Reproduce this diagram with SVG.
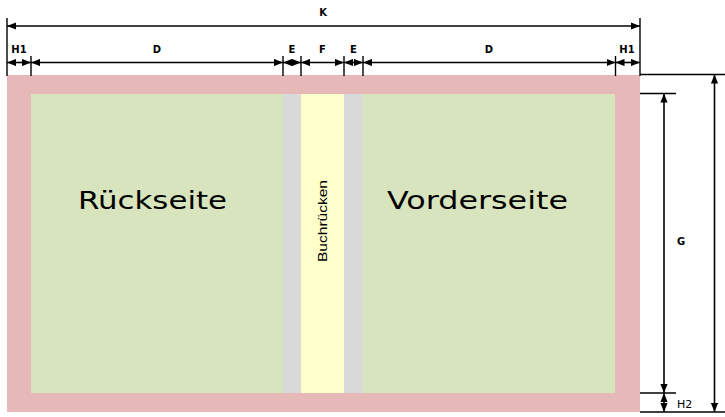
<svg xmlns="http://www.w3.org/2000/svg" width="725" height="417" viewBox="0 0 725 417">
<style>
.dim{stroke:#000;stroke-width:1.6;fill:none}
.ext{stroke:#000;stroke-width:1.4;fill:none}
.lbl{font-family:"DejaVu Sans",Verdana,sans-serif;font-size:10px;font-weight:bold;fill:#000;text-anchor:middle}
.big{font-family:"DejaVu Sans",Verdana,sans-serif;font-size:24px;fill:#000}
</style>
<defs>
<marker id="ae" viewBox="0 0 10 8" refX="10" refY="4" markerWidth="9" markerHeight="7.5" markerUnits="userSpaceOnUse" orient="auto"><path d="M0,0L10,4L0,8Z" fill="#000"/></marker>
<marker id="as" viewBox="0 0 10 8" refX="10" refY="4" markerWidth="9" markerHeight="7.5" markerUnits="userSpaceOnUse" orient="auto-start-reverse"><path d="M0,0L10,4L0,8Z" fill="#000"/></marker>
</defs>
<g id="cover">
<rect x="7" y="75" width="633" height="337" fill="#E6B9B8"/>
</g>
<g id="rueckseite">
<rect x="31" y="94" width="252" height="299" fill="#D7E4BD"/>
<text class="big" x="78" y="209" textLength="149" lengthAdjust="spacingAndGlyphs">Rückseite</text>
</g>
<g id="falz-links"><rect x="283" y="94" width="18" height="299" fill="#D9D9D9"/></g>
<g id="buchruecken">
<rect x="301" y="94" width="43" height="299" fill="#FFFFCC"/>
<text x="0" y="0" transform="translate(326.5,221) rotate(-90)" font-family="'Liberation Sans',Arial,sans-serif" font-size="12.5" text-anchor="middle" textLength="82" lengthAdjust="spacingAndGlyphs">Buchrücken</text>
</g>
<g id="falz-rechts"><rect x="344" y="94" width="19" height="299" fill="#D9D9D9"/></g>
<g id="vorderseite">
<rect x="363" y="94" width="252" height="299" fill="#D7E4BD"/>
<text class="big" x="387" y="209" textLength="181" lengthAdjust="spacingAndGlyphs">Vorderseite</text>
</g>
<g id="connectors">
<line class="ext" x1="7" y1="18" x2="7" y2="76"/>
<line class="ext" x1="640" y1="18" x2="640" y2="76"/>
<line class="ext" x1="31" y1="56" x2="31" y2="76"/>
<line class="ext" x1="283" y1="56" x2="283" y2="76"/>
<line class="ext" x1="301" y1="56" x2="301" y2="76"/>
<line class="ext" x1="344" y1="56" x2="344" y2="76"/>
<line class="ext" x1="363" y1="56" x2="363" y2="76"/>
<line class="ext" x1="615.5" y1="56" x2="615.5" y2="76"/>
<line class="dim" x1="7" y1="26" x2="640" y2="26" marker-start="url(#as)" marker-end="url(#ae)"/>
<line class="dim" x1="7" y1="62.5" x2="31" y2="62.5" marker-start="url(#as)" marker-end="url(#ae)"/>
<line class="dim" x1="31" y1="62.5" x2="283" y2="62.5" marker-start="url(#as)" marker-end="url(#ae)"/>
<line class="dim" x1="283" y1="62.5" x2="301" y2="62.5" marker-start="url(#as)" marker-end="url(#ae)"/>
<line class="dim" x1="301" y1="62.5" x2="344" y2="62.5" marker-start="url(#as)" marker-end="url(#ae)"/>
<line class="dim" x1="344" y1="62.5" x2="363" y2="62.5" marker-start="url(#as)" marker-end="url(#ae)"/>
<line class="dim" x1="363" y1="62.5" x2="615.5" y2="62.5" marker-start="url(#as)" marker-end="url(#ae)"/>
<line class="dim" x1="615.5" y1="62.5" x2="640" y2="62.5" marker-start="url(#as)" marker-end="url(#ae)"/>
<line class="ext" x1="640" y1="74.5" x2="725" y2="74.5"/>
<line class="ext" x1="640" y1="93.5" x2="676" y2="93.5"/>
<line class="ext" x1="640" y1="393" x2="676" y2="393"/>
<line class="ext" x1="640" y1="412" x2="725" y2="412"/>
<line class="dim" x1="664" y1="93.5" x2="664" y2="393" marker-start="url(#as)" marker-end="url(#ae)"/>
<line class="dim" x1="664" y1="393" x2="664" y2="412" marker-start="url(#as)" marker-end="url(#ae)"/>
<line class="dim" x1="714.5" y1="74.5" x2="714.5" y2="412" marker-start="url(#as)" marker-end="url(#ae)"/>
</g>
<g id="labels">
<text class="lbl" x="323" y="16">K</text>
<text class="lbl" x="19" y="53">H1</text>
<text class="lbl" x="157" y="53">D</text>
<text class="lbl" x="292" y="53">E</text>
<text class="lbl" x="322.5" y="53">F</text>
<text class="lbl" x="353.5" y="53">E</text>
<text class="lbl" x="489" y="53">D</text>
<text class="lbl" x="627" y="53">H1</text>
<text class="lbl" x="681" y="245">G</text>
<text x="677" y="408" font-family="'DejaVu Sans',Verdana,sans-serif" font-size="11" fill="#000">H2</text>
</g>
</svg>
